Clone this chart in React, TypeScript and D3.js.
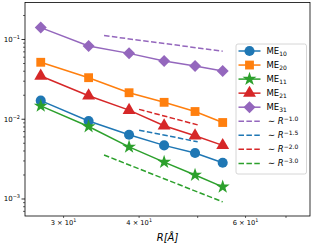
import React, { useEffect, useRef } from 'react';
import * as d3 from 'd3';

// separation R (Å)
const R = [27.5, 33, 38.5, 44, 49.5, 55];

// series values
const ME10 = [0.0171, 0.0095, 0.0064, 0.0047, 0.00377, 0.00285];
const ME20 = [0.0518, 0.0332, 0.0215, 0.0163, 0.0125, 0.0091];
const ME11 = [0.0147, 0.0081, 0.0045, 0.0029, 0.002, 0.00142];
const ME21 = [0.0348, 0.0197, 0.013, 0.0083, 0.0062, 0.0047];
const ME31 = [0.141, 0.083, 0.067, 0.0537, 0.0465, 0.0403];

// power-law guide lines (end points)
const GUIDE_P10_R = [35, 55];
const GUIDE_P10_V = [0.112, 0.0713];
const GUIDE_P15_R = [40, 50];
const GUIDE_P15_V = [0.0073, 0.00522];
const GUIDE_P20_R = [40, 50];
const GUIDE_P20_V = [0.0133, 0.0085];
const GUIDE_P30_R = [35, 55];
const GUIDE_P30_V = [0.00356, 0.00092];

const X_TICKS = [30, 40, 50, 60, 70];
const X_TICK_LABELS = ['3', '4', '', '6', ''];
const Y_MAJOR = [1e-3, 1e-2, 1e-1];
const Y_MAJOR_LABELS = ['−3', '−2', '−1'];

const series = [
  { name: '10', values: ME10, color: '#1f77b4', marker: 'circle' },
  { name: '20', values: ME20, color: '#ff7f0e', marker: 'square' },
  { name: '11', values: ME11, color: '#2ca02c', marker: 'star' },
  { name: '21', values: ME21, color: '#d62728', marker: 'triangle' },
  { name: '31', values: ME31, color: '#9467bd', marker: 'diamond' },
];

const guides = [
  { exp: '−1.0', r: GUIDE_P10_R, v: GUIDE_P10_V, color: '#9467bd' },
  { exp: '−1.5', r: GUIDE_P15_R, v: GUIDE_P15_V, color: '#1f77b4' },
  { exp: '−2.0', r: GUIDE_P20_R, v: GUIDE_P20_V, color: '#d62728' },
  { exp: '−3.0', r: GUIDE_P30_R, v: GUIDE_P30_V, color: '#2ca02c' },
];

const FONT = '"DejaVu Sans", sans-serif';

const markerPath = (kind: string) => {
  if (kind === 'circle') return d3.symbol(d3.symbolCircle, 80)();
  if (kind === 'square') return d3.symbol(d3.symbolSquare, 78)();
  if (kind === 'star') return d3.symbol(d3.symbolStar, 60)();
  if (kind === 'triangle') return d3.symbol(d3.symbolTriangle, 72)();
  // matplotlib 'D': square turned 45 degrees
  const h = 6;
  return `M0,${-h}L${h},0L0,${h}L${-h},0Z`;
};

const App = () => {
  const ref = useRef<SVGSVGElement | null>(null);

  useEffect(() => {
    if (!ref.current) return;
    const svg = d3.select(ref.current);
    svg.selectAll('*').remove();

    const left = 25, right = 310, top = 2.5, bottom = 216;

    const x = d3.scaleLog().domain([25.9, 76.7]).range([left, right]);
    const y = d3.scaleLog().domain([6.12e-4, 0.291]).range([bottom, top]);

    const g = svg.append('g');

    // y ticks (major + minor)
    const yMinor: number[] = [];
    [1e-4, 1e-3, 1e-2, 1e-1].forEach((d) => {
      for (let k = 2; k <= 9; k++) {
        const v = d * k;
        if (v > y.domain()[0] && v < y.domain()[1]) yMinor.push(v);
      }
    });
    yMinor.forEach((v) => {
      g.append('line')
        .attr('x1', left - 2).attr('x2', left)
        .attr('y1', y(v)).attr('y2', y(v))
        .attr('stroke', '#000').attr('stroke-width', 0.6);
    });
    Y_MAJOR.forEach((v, i) => {
      g.append('line')
        .attr('x1', left - 3.5).attr('x2', left)
        .attr('y1', y(v)).attr('y2', y(v))
        .attr('stroke', '#000').attr('stroke-width', 0.8);
      const t = g.append('text')
        .attr('x', left - 5).attr('y', y(v) + 2.5)
        .attr('text-anchor', 'end')
        .style('font-family', FONT).style('font-size', '7px');
      t.append('tspan').text('10');
      t.append('tspan').attr('dy', -3).style('font-size', '5px').text(Y_MAJOR_LABELS[i]);
    });

    // x ticks (all minor on this log range)
    X_TICKS.forEach((v, i) => {
      g.append('line')
        .attr('x1', x(v)).attr('x2', x(v))
        .attr('y1', bottom).attr('y2', bottom + 2)
        .attr('stroke', '#000').attr('stroke-width', 0.6);
      if (X_TICK_LABELS[i]) {
        const t = g.append('text')
          .attr('x', x(v)).attr('y', bottom + 8.5)
          .attr('text-anchor', 'middle')
          .style('font-family', FONT).style('font-size', '6.7px');
        t.append('tspan').text(`${X_TICK_LABELS[i]} × 10`);
        t.append('tspan').attr('dy', -2.8).style('font-size', '4.8px').text('1');
      }
    });

    // axis label
    g.append('text')
      .attr('x', (left + right) / 2).attr('y', 241)
      .attr('text-anchor', 'middle')
      .style('font-family', FONT).style('font-size', '10px').style('font-style', 'italic')
      .text('R[Å]');

    const line = d3.line<[number, number]>().x((d) => x(d[0])).y((d) => y(d[1]));

    // series
    series.forEach((s) => {
      const pts = R.map((r, i) => [r, s.values[i]] as [number, number]);
      g.append('path')
        .attr('d', line(pts))
        .attr('fill', 'none').attr('stroke', s.color).attr('stroke-width', 1.5);
      g.selectAll(null)
        .data(pts)
        .enter()
        .append('path')
        .attr('d', markerPath(s.marker))
        .attr('transform', (d) => `translate(${x(d[0])},${y(d[1])})`)
        .attr('fill', s.color);
    });

    // guide lines
    guides.forEach((gd) => {
      const pts = gd.r.map((r, i) => [r, gd.v[i]] as [number, number]);
      g.append('path')
        .attr('d', line(pts))
        .attr('fill', 'none').attr('stroke', gd.color).attr('stroke-width', 1.5)
        .attr('stroke-dasharray', '5.5,2.4');
    });

    // frame
    g.append('rect')
      .attr('x', left).attr('y', top)
      .attr('width', right - left).attr('height', bottom - top)
      .attr('fill', 'none').attr('stroke', '#000').attr('stroke-width', 0.8);

    // legend
    const lg = g.append('g');
    lg.append('rect')
      .attr('x', 236).attr('y', 44)
      .attr('width', 70.5).attr('height', 130)
      .attr('rx', 2)
      .attr('fill', 'white').attr('fill-opacity', 0.8)
      .attr('stroke', '#cccccc').attr('stroke-width', 0.8);

    const rowY = (i: number) => 51 + i * 14.05;
    series.forEach((s, i) => {
      const yy = rowY(i);
      lg.append('line')
        .attr('x1', 238.5).attr('x2', 260.5).attr('y1', yy).attr('y2', yy)
        .attr('stroke', s.color).attr('stroke-width', 1.5);
      lg.append('path')
        .attr('d', markerPath(s.marker))
        .attr('transform', `translate(249.5,${yy})`)
        .attr('fill', s.color);
      const t = lg.append('text')
        .attr('x', 266.5).attr('y', yy + 3)
        .style('font-family', FONT).style('font-size', '8.5px');
      t.append('tspan').text('ME');
      t.append('tspan').attr('dy', 2).style('font-size', '6px').text(s.name);
    });
    guides.forEach((gd, i) => {
      const yy = rowY(series.length + i);
      lg.append('line')
        .attr('x1', 238.5).attr('x2', 260.5).attr('y1', yy).attr('y2', yy)
        .attr('stroke', gd.color).attr('stroke-width', 1.5)
        .attr('stroke-dasharray', '5.5,2.4');
      const t = lg.append('text')
        .attr('x', 268).attr('y', yy + 3)
        .style('font-family', FONT).style('font-size', '8.5px');
      t.append('tspan').text('∼ ');
      t.append('tspan').style('font-style', 'italic').text('R');
      t.append('tspan').attr('dy', -3.5).style('font-size', '6px').text(gd.exp);
    });
  }, []);

  return (
    <svg
      ref={ref}
      width={314}
      height={245}
      style={{ position: 'absolute', left: 0, top: 0, background: 'white' }}
    />
  );
};

export default App;
